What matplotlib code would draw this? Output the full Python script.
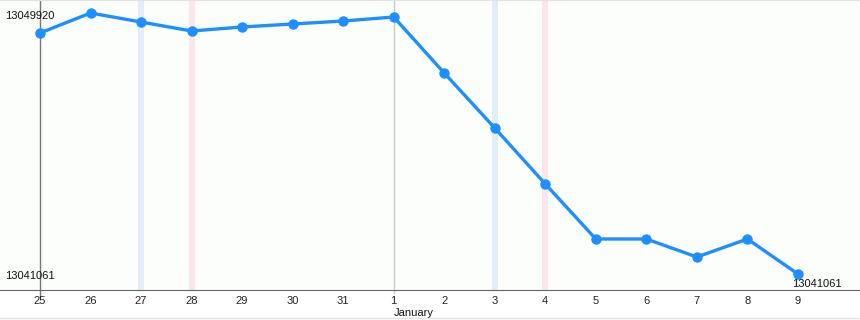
# daily value line chart, Dec 25 - Jan 9

import matplotlib.pyplot as plt

days   = ["25", "26", "27", "28", "29", "30", "31", "1", "2", "3", "4", "5", "6", "7", "8", "9"]
values = [13049241, 13049920, 13049614, 13049309, 13049445, 13049547, 13049648, 13049784,
          13047883, 13046017, 13044116, 13042249, 13042249, 13041638, 13042249, 13041061]
blue_days = ["27", "3"]     # highlighted days (light blue band)
pink_days = ["28", "4"]     # highlighted days (light pink band)
month_label = "January"
month_start = "1"

plt.rcParams.update({"font.family": ["Liberation Sans", "DejaVu Sans"], "font.size": 8})

fig = plt.figure(figsize=(8.6, 3.2), dpi=100)
ax = fig.add_axes([0, 30 / 320, 1, 290 / 320])
ax.set_facecolor("#fcfefc")

x = list(range(len(days)))
for d in blue_days:
    i = days.index(d)
    ax.axvspan(i - 0.06, i + 0.06, color="#e1eef6", lw=0, zorder=0)
for d in pink_days:
    i = days.index(d)
    ax.axvspan(i - 0.06, i + 0.06, color="#fce6ee", lw=0, zorder=0)

ax.axvline(0, ymin=-0.025, ymax=1, color="#777777", lw=1, clip_on=False, zorder=1)
ax.axvline(days.index(month_start), ymin=-0.01, ymax=1, color="#c8c8c8", lw=1,
           clip_on=False, zorder=1)

ax.plot(x, values, color="#1e8fff", lw=2.4, marker="o", ms=6.5, zorder=3)

vmax, vmin = max(values), min(values)
step = (vmax - vmin) / 261
ax.set_ylim(vmin - 16 * step, vmax + 13 * step)
ax.set_xlim(-40 / 50.53, 820 / 50.53)

ax.set_xticks(x)
ax.set_xticklabels(days)
ax.tick_params(axis="x", length=0, pad=4.5, colors="#222222")
ax.set_yticks([])
for s in ("top", "right"):
    ax.spines[s].set_color("#e2e2e2")
    ax.spines[s].set_linestyle((0, (1, 1)))
ax.spines["left"].set_visible(False)
ax.spines["bottom"].set_color("#666666")

ax.annotate(str(vmax), (5 / 860, vmax), xycoords=ax.get_yaxis_transform(),
            xytext=(0, -2), textcoords="offset points",
            ha="left", va="center", color="#111111")
ax.annotate(str(vmin), (5 / 860, vmin), xycoords=ax.get_yaxis_transform(),
            xytext=(0, -1.5), textcoords="offset points",
            ha="left", va="center", color="#111111")
ax.annotate(str(values[-1]), (x[-1], values[-1]), xytext=(14, -7.5),
            textcoords="offset points", ha="center", va="center", color="#111111")
ax.text(days.index(month_start), -0.08, month_label, transform=ax.get_xaxis_transform(),
        ha="left", va="center", color="#111111")

fig.add_artist(plt.Line2D([0, 1], [2 / 320, 2 / 320], color="#e4e4e4", lw=1))

fig.savefig("out.png", dpi=100)
